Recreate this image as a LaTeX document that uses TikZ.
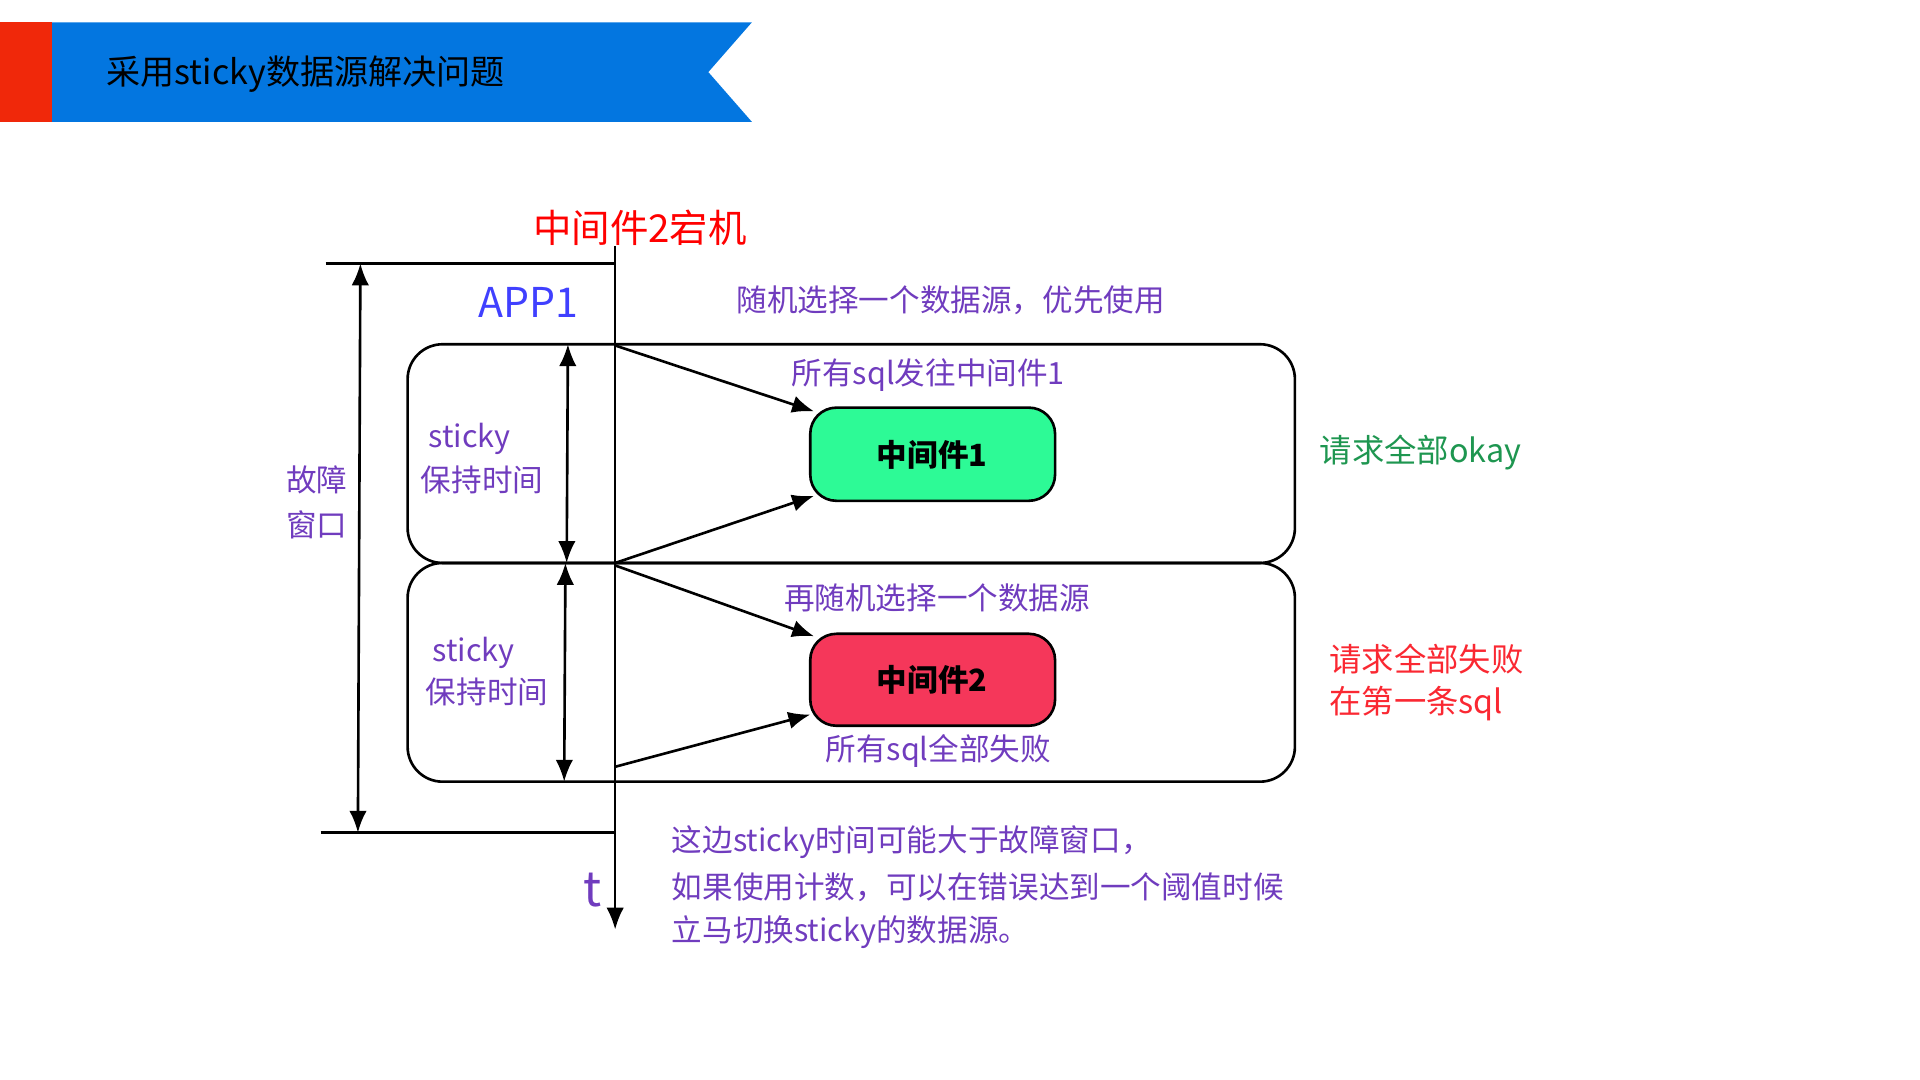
\documentclass[tikz,border=0pt]{standalone}
\usepackage{fontspec}
\setmainfont{Noto Sans CJK SC}
\usetikzlibrary{arrows.meta}
\definecolor{pur}{RGB}{112,60,190}
\definecolor{bblue}{RGB}{3,118,224}
\definecolor{rred}{RGB}{240,40,10}
\definecolor{gbox}{RGB}{45,250,150}
\definecolor{rbox}{RGB}{245,55,90}
\definecolor{okg}{RGB}{30,150,80}
\definecolor{failr}{RGB}{250,40,50}
\begin{document}
\begin{tikzpicture}[x=0.01cm,y=-0.01cm,
  lab/.style={font=\fontsize{7pt}{8pt}\selectfont,text=pur,inner sep=0},
  arr/.style={-{Latex[length=5pt,width=4pt]},line width=0.6pt},
  darr/.style={{Latex[length=5pt,width=4pt]}-{Latex[length=5pt,width=4pt]},line width=0.6pt}]
\useasboundingbox (0,0) rectangle (1545,869);
% banner
\fill[rred] (0,18) rectangle (42,98);
\fill[bblue] (42,18) -- (605,18) -- (570,58) -- (605,98) -- (42,98) -- cycle;
\node[anchor=west,inner sep=0,font=\fontsize{7.8pt}{9pt}\selectfont] (title) at (85,60) {采用sticky数据源解决问题};
\node[inner sep=0,text=red,font=\fontsize{8.8pt}{10pt}\selectfont] (down) at (515,183) {中间件2宕机};
% time axis
\coordinate (ax0) at (495,198);
\coordinate (ax1) at (495,748);
\draw[arr] (ax0) -- (ax1);
\node[inner sep=0,text=pur,font=\fontsize{11pt}{12pt}\selectfont] (t) at (477,716) {t};
\coordinate (tl0) at (262,212); \coordinate (tl1) at (495,212);
\coordinate (bl0) at (258,670); \coordinate (bl1) at (495,670);
\draw[line width=0.6pt] (tl0) -- (tl1);
\draw[line width=0.6pt] (bl0) -- (bl1);
\coordinate (fa) at (290,212); \coordinate (fb) at (288,670);
\draw[darr] (fa) -- (fb);
\node[lab] (gz1) at (255,386) {故障};
\node[lab] (gz2) at (255,422) {窗口};
\node[inner sep=0,text=blue!75!white,font=\fontsize{9.4pt}{10pt}\selectfont] (app) at (425,243) {APP1};
\node[lab] (rand) at (765,242) {随机选择一个数据源，优先使用};
% boxes
\draw[line width=0.6pt,rounded corners=8pt] (328,277) rectangle (1042,453);
\draw[line width=0.6pt,rounded corners=8pt] (328,453) rectangle (1042,629);
\coordinate (s1a) at (457,277); \coordinate (s1b) at (456,453);
\coordinate (s2a) at (455,453); \coordinate (s2b) at (454,629);
\draw[darr] (s1a) -- (s1b);
\draw[darr] (s2a) -- (s2b);
\node[lab] (st1) at (378,353) {sticky};
\node[lab] (hold1) at (388,386) {保持时间};
\node[lab] (st2) at (381,525) {sticky};
\node[lab] (hold2) at (392,557) {保持时间};
% middleware
\draw[fill=gbox,line width=0.6pt,rounded corners=6pt] (652,328) rectangle (849,403);
\node[inner sep=0,font=\fontsize{7pt}{8pt}\selectfont\bfseries] (m1) at (750,366) {中间件1};
\draw[fill=rbox,line width=0.6pt,rounded corners=6pt] (652,510) rectangle (849,584);
\node[inner sep=0,font=\fontsize{7pt}{8pt}\selectfont\bfseries] (m2) at (750,547) {中间件2};
\coordinate (a1s) at (495,278); \coordinate (a1e) at (655,331);
\coordinate (a2s) at (495,453); \coordinate (a2e) at (655,399);
\coordinate (a3s) at (495,455); \coordinate (a3e) at (655,512);
\coordinate (a4s) at (495,617); \coordinate (a4e) at (652,575);
\draw[arr] (a1s) -- (a1e);
\draw[arr] (a2s) -- (a2e);
\draw[arr] (a3s) -- (a3e);
\draw[arr] (a4s) -- (a4e);
\node[lab] (l1) at (747,302) {所有sql发往中间件1};
\node[lab] (l2) at (754,481) {再随机选择一个数据源};
\node[lab] (l3) at (755,604) {所有sql全部失败};
\node[lab,text=okg,font=\fontsize{7.4pt}{8pt}\selectfont] (ok) at (1143,364) {请求全部okay};
\node[lab,text=failr,anchor=west,font=\fontsize{7.4pt}{8pt}\selectfont] (f1) at (1069,530) {请求全部失败};
\node[lab,text=failr,anchor=west,font=\fontsize{7.4pt}{8pt}\selectfont] (f2) at (1069,566) {在第一条sql};
\node[lab,anchor=west] (n1) at (540,678) {这边sticky时间可能大于故障窗口，};
\node[lab,anchor=west] (n2) at (540,714) {如果使用计数，可以在错误达到一个阈值时候};
\node[lab,anchor=west] (n3) at (540,750) {立马切换sticky的数据源。};
\end{tikzpicture}
\end{document}
